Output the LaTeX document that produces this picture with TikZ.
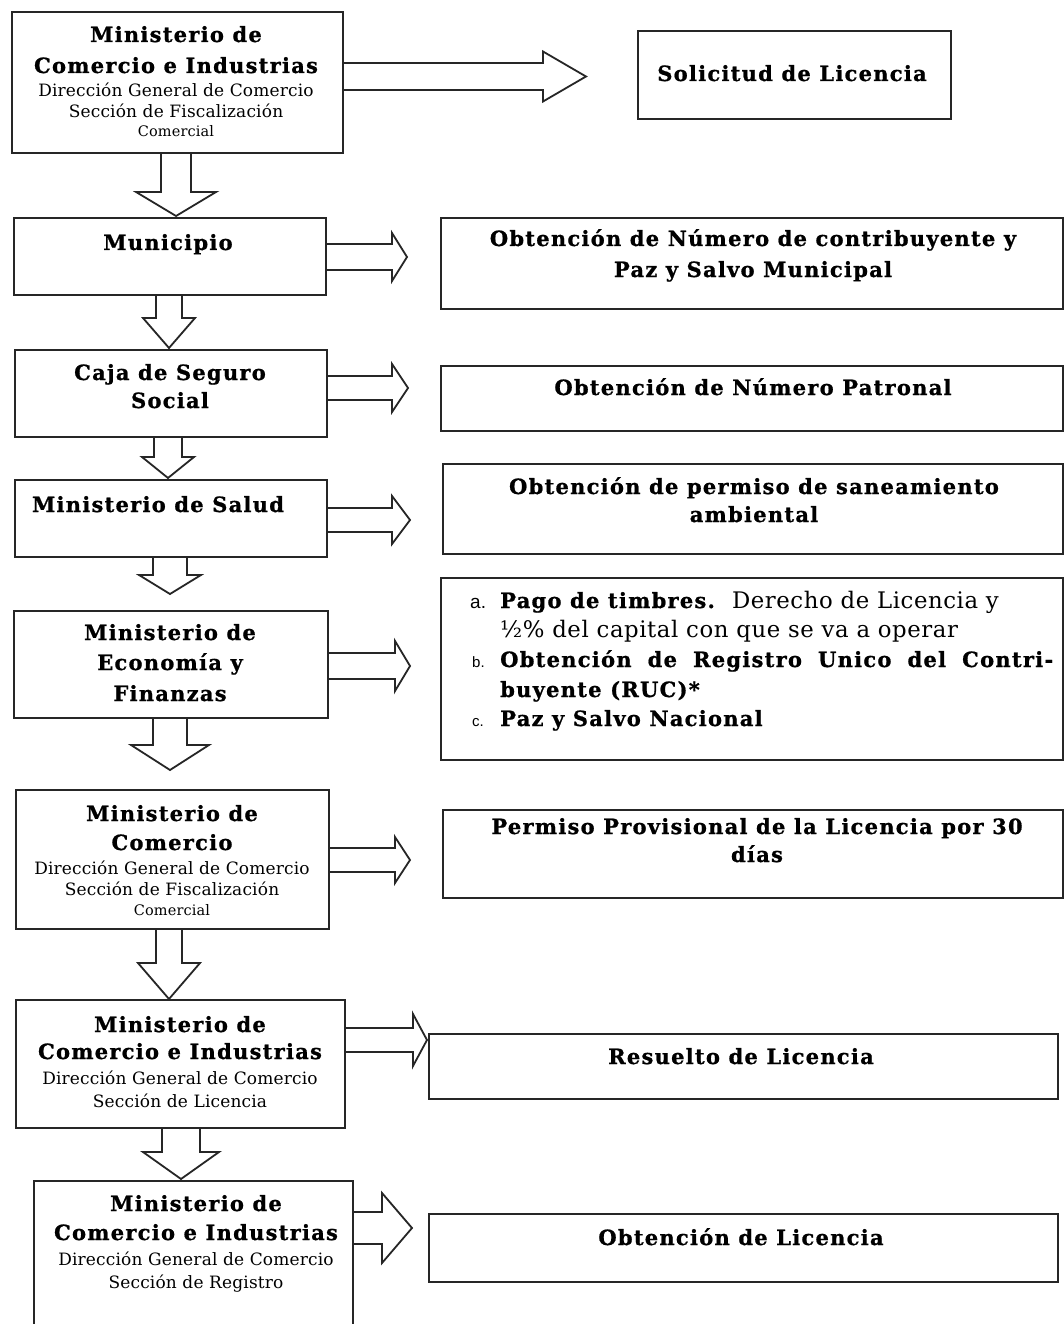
\documentclass[tikz,border=0pt]{standalone}
\usepackage{fontspec}
\setmainfont{DejaVu Serif}
\newfontfamily\hvy{DejaVu Serif Bold}[FakeBold=0.9, LetterSpace=6]
\newfontfamily\sbf{DejaVu Serif}[LetterSpace=1]
\newfontfamily\rgf{DejaVu Serif}[LetterSpace=2.5]
\newfontfamily\arl{Liberation Sans}
\usetikzlibrary{calc}
\tikzset{
  box/.style={draw=black!85, line width=1.8pt, inner sep=0pt, anchor=north west},
  barrow/.style={draw=black!85, line width=1.8pt, line join=miter},
  hd/.style={inner sep=0pt, anchor=base, font=\hvy\fontsize{21}{25}\selectfont},
  sb/.style={inner sep=0pt, anchor=base, font=\sbf\fontsize{17}{20}\selectfont},
  sbs/.style={inner sep=0pt, anchor=base, font=\sbf\fontsize{14.5}{17}\selectfont},
  lst/.style={inner sep=0pt, anchor=base west, font=\hvy\fontsize{21}{25}\selectfont},
  lbl/.style={inner sep=0pt, anchor=base west},
}
% box: name, x1, y1, x2, y2
\newcommand\bx[5]{\node[box, minimum width=#4pt-#2pt, minimum height=#5pt-#3pt] (#1) at (#2,#3) {};}
% right block arrow: node, y, shaft half, head half, base x, tip x
\newcommand\rarr[6]{\draw[barrow] (#1.east |- 0,#2-#3) -- (#5,#2-#3) -- (#5,#2-#4) -- (#6,#2) -- (#5,#2+#4) -- (#5,#2+#3) -- (#1.east |- 0,#2+#3);}
% down block arrow: node, x, shaft half, head half, base y, tip y
\newcommand\darr[6]{\draw[barrow] (#2-#3,0 |- #1.south) -- (#2-#3,#5) -- (#2-#4,#5) -- (#2,#6) -- (#2+#4,#5) -- (#2+#3,#5) -- (#2+#3,0 |- #1.south);}
\begin{document}
\begin{tikzpicture}[x=1pt,y=-1pt]
\useasboundingbox (0,0) rectangle (1063,1324);
\fill[white] (0,0) rectangle (1063,1324);

% left column boxes
\bx{m1}{11}{11}{342}{152}
\bx{mun}{13}{217}{325}{294}
\bx{caja}{14}{349}{326}{436}
\bx{sal}{14}{479}{326}{556}
\bx{mef}{13}{610}{327}{717}
\bx{mco}{15}{789}{328}{928}
\bx{lic}{15}{999}{344}{1127}
\bx{reg}{33}{1180}{352}{1345}

% right column boxes
\bx{sol}{637}{30}{950}{118}
\bx{num}{440}{217}{1062}{308}
\bx{pat}{440}{365}{1062}{430}
\bx{san}{442}{463}{1062}{553}
\bx{pag}{440}{577}{1062}{759}
\bx{per}{442}{809}{1062}{897}
\bx{res}{428}{1033}{1057}{1098}
\bx{obl}{428}{1213}{1057}{1281}

% texts left
\node[hd] (m1a) at (176,42) {Ministerio de};
\node[hd] (m1b) at (176,73) {Comercio e Industrias};
\node[sb] (m1c) at (176,97) {Dirección General de Comercio};
\node[sb] (m1d) at (176,118) {Sección de Fiscalización};
\node[sbs] (m1e) at (176,137) {Comercial};

\node[hd] (muna) at (168,250) {Municipio};

\node[hd] (cajaa) at (170,380) {Caja de Seguro};
\node[hd] (cajab) at (170,408) {Social};

\node[hd] (sala) at (158,512) {Ministerio de Salud};

\node[hd] (mefa) at (170,640) {Ministerio de};
\node[hd] (mefb) at (170,670) {Economía y};
\node[hd] (mefc) at (170,701) {Finanzas};

\node[hd] (mcoa) at (172,821) {Ministerio de};
\node[hd] (mcob) at (172,850) {Comercio};
\node[sb] (mcoc) at (172,874) {Dirección General de Comercio};
\node[sb] (mcod) at (172,895) {Sección de Fiscalización};
\node[sbs] (mcoe) at (172,915) {Comercial};

\node[hd] (lica) at (180,1032) {Ministerio de};
\node[hd] (licb) at (180,1059) {Comercio e Industrias};
\node[sb] (licc) at (180,1084) {Dirección General de Comercio};
\node[sb] (licd) at (180,1107) {Sección de Licencia};

\node[hd] (rega) at (196,1211) {Ministerio de};
\node[hd] (regb) at (196,1240) {Comercio e Industrias};
\node[sb] (regc) at (196,1265) {Dirección General de Comercio};
\node[sb] (regd) at (196,1288) {Sección de Registro};

% texts right
\node[hd] (sola) at (792,81) {Solicitud de Licencia};
\node[hd] (numa) at (753,246) {Obtención de Número de contribuyente y};
\node[hd] (numb) at (753,277) {Paz y Salvo Municipal};
\node[hd] (pata) at (753,395) {Obtención de Número Patronal};
\node[hd] (sana) at (754,494) {Obtención de permiso de saneamiento};
\node[hd] (sanb) at (754,522) {ambiental};
\node[lbl, font=\arl\fontsize{19}{22}\selectfont] (pla) at (470,608) {a.};
\node[lst] (pta) at (500,608) {Pago de timbres.\ \ {\rgf\fontsize{22.8}{26}\selectfont Derecho de Licencia y}};
\node[lbl, font=\rgf\fontsize{22.8}{26}\selectfont] (ptb) at (500,637) {½\% del capital con que se va a operar};
\node[lbl, font=\arl\fontsize{15}{18}\selectfont] (plb) at (472,667) {b.};
\node[lst] (ptc) at (500,667) {\makebox[553pt][s]{Obtención de Registro Unico del Contri-}};
\node[lst] (ptd) at (500,697) {buyente (RUC)*};
\node[lbl, font=\arl\fontsize{15}{18}\selectfont] (plc) at (472,726) {c.};
\node[lst] (pte) at (500,726) {Paz y Salvo Nacional};
\node[hd] (pera) at (757,834) {Permiso Provisional de la Licencia por 30};
\node[hd] (perb) at (757,862) {días};
\node[hd] (resa) at (741,1064) {Resuelto de Licencia};
\node[hd] (obla) at (741,1245) {Obtención de Licencia};

% right block arrows
\rarr{m1}{76.5}{13.5}{25}{543}{586}
\rarr{mun}{257}{13}{24}{392}{407}
\rarr{caja}{388}{12}{24}{392}{408}
\rarr{sal}{520}{12}{24}{392}{410}
\rarr{mef}{666}{13}{25}{395}{410}
\rarr{mco}{860}{12}{23}{395}{410}
\rarr{lic}{1040}{12}{26}{413}{427}
\rarr{reg}{1228}{16}{35}{382}{412}

% down block arrows
\darr{m1}{176}{15}{40}{192}{216}
\darr{mun}{169}{13}{26}{318}{348}
\darr{caja}{168}{14}{26}{457}{478}
\darr{sal}{170}{17}{31}{575}{594}
\darr{mef}{170}{17}{39}{745}{770}
\darr{mco}{169}{13}{31}{963}{999}
\darr{lic}{181}{19}{38}{1152}{1179}
\end{tikzpicture}
\end{document}
